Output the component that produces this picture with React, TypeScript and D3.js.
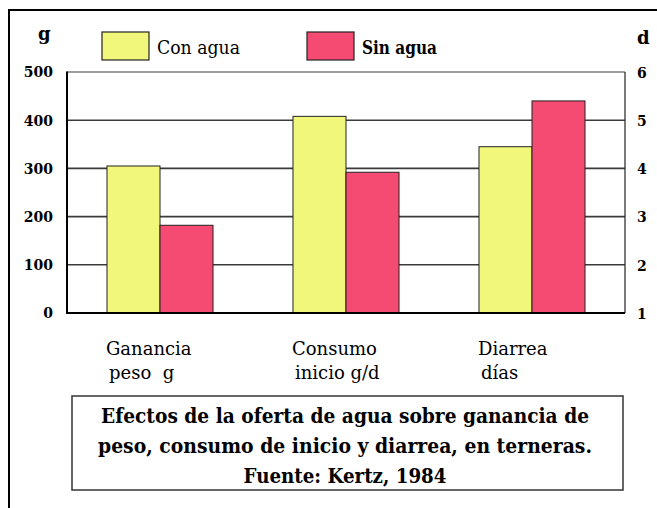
import React from "react";
import * as d3 from "d3";

const categories = ["Ganancia", "Consumo", "Diarrea"];
const categoryLines = [
  ["Ganancia", "peso  g"],
  ["Consumo", "inicio g/d"],
  ["Diarrea", "días"],
];
const seriesNames = ["Con agua", "Sin agua"];
const seriesColors = ["#F0F77A", "#F54B73"];
// values: first two categories on left axis (g), third on right axis (días)
const conAgua = [305, 408, 4.45];
const sinAgua = [182, 292, 5.4];
const axisOf = ["left", "left", "right"];
const leftTicks = [0, 100, 200, 300, 400, 500];
const rightTicks = [1, 2, 3, 4, 5, 6];
const captionLines = [
  "Efectos de la oferta de agua sobre ganancia de",
  "peso, consumo de inicio y diarrea, en terneras.",
  "Fuente: Kertz, 1984",
];
const captionWidths = [488, 494, 203];

const W = 657;
const H = 508;
const plot = { left: 67, right: 625, top: 72, bottom: 313 };
const serif = "'DejaVu Serif', serif";

export default function App() {
  const x = d3
    .scaleBand<string>()
    .domain(categories)
    .range([plot.left, plot.right])
    .paddingInner(0.43)
    .paddingOuter(0.215);
  const xs = d3.scaleBand<string>().domain(seriesNames).range([0, x.bandwidth()]);
  const yL = d3.scaleLinear().domain([0, 500]).range([plot.bottom, plot.top]);
  const yR = d3.scaleLinear().domain([1, 6]).range([plot.bottom, plot.top]);
  const series = [conAgua, sinAgua];

  return (
    <svg
      width={W}
      height={H}
      style={{ position: "absolute", left: 0, top: 0, background: "#fff", fontFamily: serif }}
    >
      <rect x={0} y={0} width={W} height={H} fill="#fff" />
      {/* outer frame */}
      <rect x={9} y={10} width={W} height={H} fill="none" stroke="#000" strokeWidth={2} />

      {/* gridlines */}
      {leftTicks.slice(1).map((t) => (
        <line
          key={t}
          x1={plot.left}
          x2={plot.right}
          y1={yL(t)}
          y2={yL(t)}
          stroke="#3a3a3a"
          strokeWidth={t === 500 ? 1.2 : 1.6}
        />
      ))}

      {/* bars */}
      {categories.map((c, i) =>
        series.map((s, j) => {
          const y = axisOf[i] === "left" ? yL : yR;
          const top = y(s[i]);
          return (
            <rect
              key={c + j}
              x={(x(c) as number) + (xs(seriesNames[j]) as number)}
              y={top}
              width={xs.bandwidth()}
              height={plot.bottom - top}
              fill={seriesColors[j]}
              stroke="#222"
              strokeWidth={1}
            />
          );
        })
      )}

      {/* axes */}
      <line x1={plot.right} x2={plot.right} y1={plot.top} y2={plot.bottom} stroke="#222" strokeWidth={1.2} />
      <line x1={plot.left} x2={plot.left} y1={plot.top - 0.5} y2={plot.bottom + 1} stroke="#000" strokeWidth={2} />
      <line x1={plot.left} x2={plot.right} y1={plot.bottom} y2={plot.bottom} stroke="#000" strokeWidth={2} />

      {/* left tick labels */}
      {leftTicks.map((t) => (
        <text
          key={t}
          x={53}
          y={yL(t)}
          dy="0.38em"
          textAnchor="end"
          fontWeight="bold"
          fontSize={14}
        >
          {t}
        </text>
      ))}
      {/* right tick labels */}
      {rightTicks.map((t) => (
        <text key={t} x={637} y={yR(t)} dy="0.42em" fontWeight="bold" fontSize={14}>
          {t}
        </text>
      ))}
      <text x={38} y={40} fontWeight="bold" fontSize={18}>g</text>
      <text x={637} y={44} fontWeight="bold" fontSize={18}>d</text>

      {/* legend */}
      {seriesNames.map((n, j) => (
        <g key={n} transform={`translate(${j === 0 ? 102 : 307},32)`}>
          <rect width={47} height={28} fill={seriesColors[j]} stroke="#222" strokeWidth={1.2} />
          <text
            x={55}
            y={22}
            fontSize={18}
            fontWeight={j === 1 ? "bold" : "normal"}
            textLength={j === 0 ? 83 : 75}
            lengthAdjust="spacingAndGlyphs"
          >
            {n}
          </text>
        </g>
      ))}

      {/* category labels */}
      {categories.map((c, i) => (
        <g key={c}>
          <text x={(x(c) as number) - 1} y={355} fontSize={18}>
            {categoryLines[i][0]}
          </text>
          <text x={(x(c) as number) + 2} y={379} fontSize={18} style={{ whiteSpace: "pre" }}>
            {categoryLines[i][1]}
          </text>
        </g>
      ))}

      {/* caption box */}
      <rect x={72} y={396} width={551} height={94} fill="#fff" stroke="#333" strokeWidth={1.5} />
      {captionLines.map((l, i) => (
        <text
          key={i}
          x={345}
          y={423 + i * 30}
          textAnchor="middle"
          fontWeight="bold"
          fontSize={20}
          textLength={captionWidths[i]}
          lengthAdjust="spacingAndGlyphs"
        >
          {l}
        </text>
      ))}
    </svg>
  );
}
